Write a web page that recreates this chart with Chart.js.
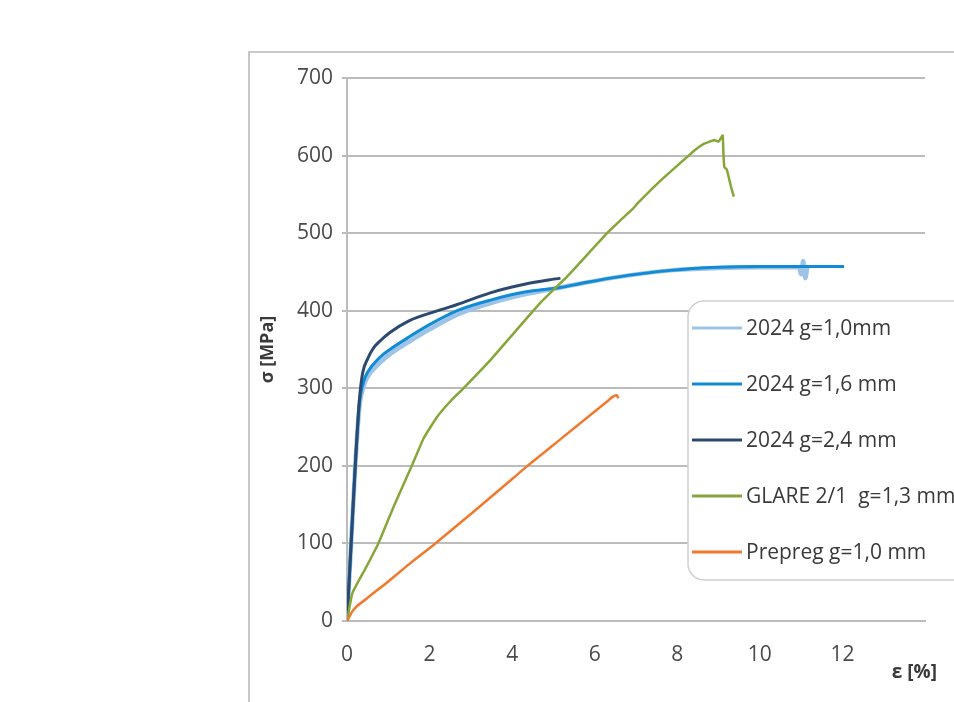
<!DOCTYPE html>
<html>
<head>
<meta charset="utf-8">
<script src="https://cdn.jsdelivr.net/npm/chart.js@4"></script>
<style>
  html, body { margin: 0; padding: 0; background: #fff; overflow: hidden; }
  #wrap { position: relative; width: 954px; height: 702px; }
  #frame { position: absolute; left: 248px; top: 51px; width: 900px; height: 900px;
           border: 2px solid #c8c8c8; box-sizing: border-box; }
  #c { position: absolute; left: 0; top: 0; }
</style>
</head>
<body>
<div id="wrap">
  <div id="frame"></div>
  <canvas id="c" width="954" height="702"></canvas>
</div>
<script>
// curvas tensión-deformación (ε en %, σ en MPa)
const labels = ["2024 g=1,0mm", "2024 g=1,6 mm", "2024 g=2,4 mm", "GLARE 2/1  g=1,3 mm", "Prepreg g=1,0 mm"];
const colors = ["#9dc3e6", "#118bd6", "#2c4a70", "#86a63a", "#ef7a2e"];

const strain10 = [0, 0.1, 0.2, 0.3, 0.4, 0.49, 0.8, 1.04, 1.5, 2, 2.67, 3.5, 4.3, 5.17, 6.5, 7.84, 8.98, 10, 10.95, 11.0, 11.05, 11.1, 11.15];
const stress10 = [0, 100, 200, 276, 302, 314, 333, 344, 360, 376, 395, 410, 421, 430, 443, 452, 455, 456, 456, 447, 464, 442, 456];

const strain16 = [0, 0.1, 0.2, 0.3, 0.4, 0.49, 0.8, 1.04, 1.5, 2, 2.67, 3.5, 4.3, 5.17, 5.66, 6.5, 7.84, 8.98, 10, 11, 12.04];
const stress16 = [0, 100, 200, 280, 308, 320, 340, 350, 366, 382, 400, 414, 424, 430, 435, 443, 452, 456, 457, 457, 457];

const strain24 = [0, 0.1, 0.2, 0.3, 0.38, 0.5, 0.63, 0.8, 1.04, 1.5, 2.26, 2.67, 3.47, 4.3, 5.17];
const stress24 = [0, 100, 200, 285, 320, 338, 351, 361, 372, 387, 401, 408, 423, 434, 442];

const strainGl = [0, 0.13, 0.45, 0.76, 1.15, 1.57, 1.85, 2.18, 2.5, 2.82, 3.5, 4.68, 5.33, 6.3, 6.95, 7.03, 7.6, 8.36, 8.64, 8.9, 9.0, 9.05, 9.1, 9.12, 9.14, 9.2, 9.3, 9.37];
const stressGl = [0, 36, 68, 100, 150, 200, 235, 263, 283, 300, 338, 410, 444, 500, 533, 538, 568, 604, 615, 620, 618, 622, 626, 600, 585, 582, 560, 547];

const strainPr = [0, 0.15, 0.48, 1, 1.5, 2.14, 3, 4, 4.37, 5, 6, 6.3, 6.46, 6.54, 6.57];
const stressPr = [0, 14, 29, 51, 73, 100, 138, 183, 200, 227, 270, 283, 290, 291, 287];

const xTicks = [0, 2, 4, 6, 8, 10, 12];

const pares = (xs, ys) => xs.map((x, i) => ({ x, y: ys[i] }));
const series = [
  pares(strain10, stress10),
  pares(strain16, stress16),
  pares(strain24, stress24),
  pares(strainGl, stressGl),
  pares(strainPr, stressPr)
];
const anchos = [4.5, 3, 3, 2.5, 2.5];

const FONT = "'Open Sans', sans-serif";

// leyenda dibujada dentro del área, con caja redondeada
const leyenda = {
  id: 'leyenda',
  afterDraw(chart) {
    const ctx = chart.ctx;
    const x0 = 688, y0 = 301, w = 290, h = 279, r = 16;
    ctx.save();
    ctx.beginPath();
    ctx.roundRect(x0, y0, w, h, r);
    ctx.fillStyle = '#fff';
    ctx.fill();
    ctx.lineWidth = 1.5;
    ctx.strokeStyle = '#cfcfcf';
    ctx.stroke();
    ctx.font = `21px ${FONT}`;
    ctx.textBaseline = 'middle';
    chart.data.datasets.forEach((ds, i) => {
      const y = 328 + i * 56;
      ctx.beginPath();
      ctx.moveTo(692, y);
      ctx.lineTo(742, y);
      ctx.lineWidth = 3;
      ctx.strokeStyle = ds.borderColor;
      ctx.stroke();
      ctx.fillStyle = '#3a3a3a';
      ctx.fillText(ds.label, 746, y + 1);
    });
    // título del eje x
    ctx.font = `bold 19px ${FONT}`;
    ctx.fillStyle = '#3a3a3a';
    ctx.textAlign = 'right';
    ctx.fillText('ε [%]', 937, 673);
    ctx.restore();
  }
};

new Chart(document.getElementById('c'), {
  type: 'scatter',
  data: {
    datasets: series.map((d, i) => ({
      label: labels[i],
      data: d,
      showLine: true,
      borderColor: colors[i],
      backgroundColor: colors[i],
      borderWidth: anchos[i],
      pointRadius: 0,
      cubicInterpolationMode: i === 3 ? 'default' : 'monotone',
      tension: i === 3 ? 0.1 : 0.4,
      order: 5 - i
    }))
  },
  options: {
    responsive: false,
    animation: false,
    layout: { padding: { left: 255, top: 78, right: 29, bottom: 0 } },
    plugins: { legend: { display: false }, tooltip: { enabled: false } },
    scales: {
      x: {
        type: 'linear',
        min: 0, max: 14,
        afterBuildTicks: s => { s.ticks = xTicks.map(v => ({ value: v })); },
        afterFit: s => { s.height = 81; },
        grid: { display: false, drawTicks: false },
        border: { display: true, color: '#bcbcbc', width: 2 },
        ticks: { padding: 21, color: '#4a4a4a', font: { family: FONT, size: 21 }, maxRotation: 0 }
      },
      y: {
        min: 0, max: 700,
        ticks: { stepSize: 100, padding: 9, color: '#4a4a4a', font: { family: FONT, size: 21 } },
        afterFit: s => { s.width = 92; },
        grid: { color: '#bcbcbc', lineWidth: 2, tickLength: 5, drawTicks: true },
        border: { display: true, color: '#bcbcbc', width: 2 },
        title: { display: true, text: 'σ [MPa]', color: '#3a3a3a', padding: { top: 2, bottom: 0 },
                 font: { family: FONT, size: 18, weight: 'bold' } }
      }
    }
  },
  plugins: [leyenda]
});
</script>
</body>
</html>
